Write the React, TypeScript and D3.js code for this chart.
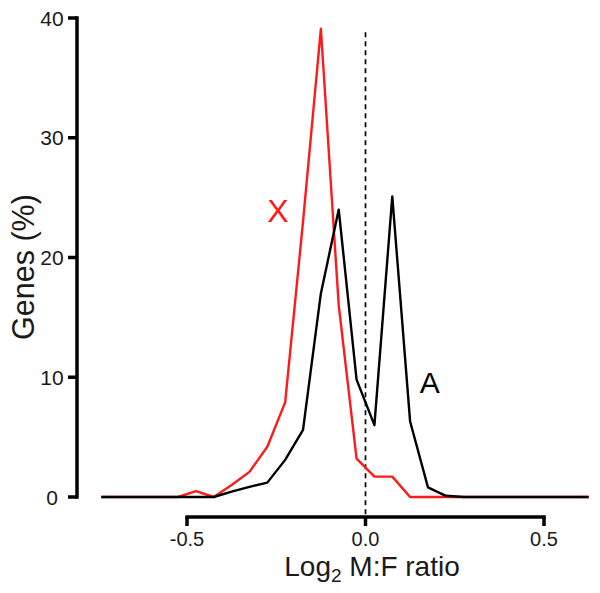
import React from "react";
import * as d3 from "d3";

const bins = [-0.74, -0.675, -0.625, -0.575, -0.525, -0.475, -0.425, -0.375, -0.325, -0.275, -0.225, -0.175, -0.125, -0.075, -0.025, 0.025, 0.075, 0.125, 0.175, 0.225, 0.275, 0.325, 0.375, 0.425, 0.475, 0.525, 0.575, 0.625];
const xChrom = [0, 0, 0, 0, 0, 0.5, 0, 1.0, 2.1, 4.2, 7.9, 23, 39.1, 16, 3.2, 1.7, 1.7, 0, 0, 0, 0, 0, 0, 0, 0, 0, 0, 0];
const autosomes = [0, 0, 0, 0, 0, 0, 0, 0.45, 0.85, 1.2, 3.1, 5.6, 17, 24, 9.8, 6.0, 25.1, 6.3, 0.8, 0.1, 0, 0, 0, 0, 0, 0, 0, 0];
const xTicks = [-0.5, 0, 0.5];
const xTickLabels = ["-0.5", "0.0", "0.5"];
const yTicks = [0, 10, 20, 30, 40];
const seriesNames = ["X", "A"];

export default function App() {
  const W = 600, H = 593;
  const x = d3.scaleLinear().domain([-0.5, 0.5]).range([187, 544]);
  const y = d3.scaleLinear().domain([0, 40]).range([497, 18]);
  const axisY = 517;
  const axisX = 77;
  const line = d3.line<number>().x((_, i) => x(bins[i])).y((d) => y(d));
  const font = "'Liberation Sans', Arial, sans-serif";
  const txt = "#1a1a1a";
  return (
    <svg width={W} height={H} style={{ position: "absolute", left: 0, top: 0, background: "#fff" }} fontFamily={font}>
      {/* y axis */}
      <line x1={axisX} x2={axisX} y1={y(40)} y2={y(0)} stroke="#000" strokeWidth={3.5} strokeLinecap="square" />
      {yTicks.map((t) => (
        <g key={t}>
          <line x1={axisX - 9} x2={axisX} y1={y(t)} y2={y(t)} stroke="#000" strokeWidth={3.5} />
          <text x={52} y={y(t) + 7.5} textAnchor="middle" fontSize={21} fill={txt}>{t}</text>
        </g>
      ))}
      {/* x axis */}
      <line x1={x(-0.5)} x2={x(0.5)} y1={axisY} y2={axisY} stroke="#000" strokeWidth={3.5} strokeLinecap="square" />
      {xTicks.map((t, i) => (
        <g key={t}>
          <line x1={x(t)} x2={x(t)} y1={axisY} y2={axisY + 9} stroke="#000" strokeWidth={3.5} />
          <text x={x(t)} y={546} textAnchor="middle" fontSize={20} fill={txt}>{xTickLabels[i]}</text>
        </g>
      ))}
      {/* dashed zero line */}
      <line x1={x(0)} x2={x(0)} y1={y(38.8)} y2={axisY + 8} stroke="#000" strokeWidth={1.7} strokeDasharray="5,4" />
      {/* series */}
      <path d={line(xChrom) || ""} fill="none" stroke="#ff1a1a" strokeWidth={2.4} strokeLinejoin="round" />
      <path d={line(autosomes) || ""} fill="none" stroke="#000" strokeWidth={2.4} strokeLinejoin="round" />
      <text x={x(-0.245)} y={y(23)} textAnchor="middle" fontSize={32} fill="#ff1a1a">{seriesNames[0]}</text>
      <text x={x(0.18)} y={y(8.7)} textAnchor="middle" fontSize={30} fill="#000">{seriesNames[1]}</text>
      {/* axis labels */}
      <text x={372} y={576} textAnchor="middle" fontSize={28} fill={txt}>
        Log<tspan fontSize={19} dy={6}>2</tspan><tspan dy={-6}> M:F ratio</tspan>
      </text>
      <text transform="translate(34,267) rotate(-90)" textAnchor="middle" fontSize={30.5} fill={txt}>Genes (%)</text>
    </svg>
  );
}
